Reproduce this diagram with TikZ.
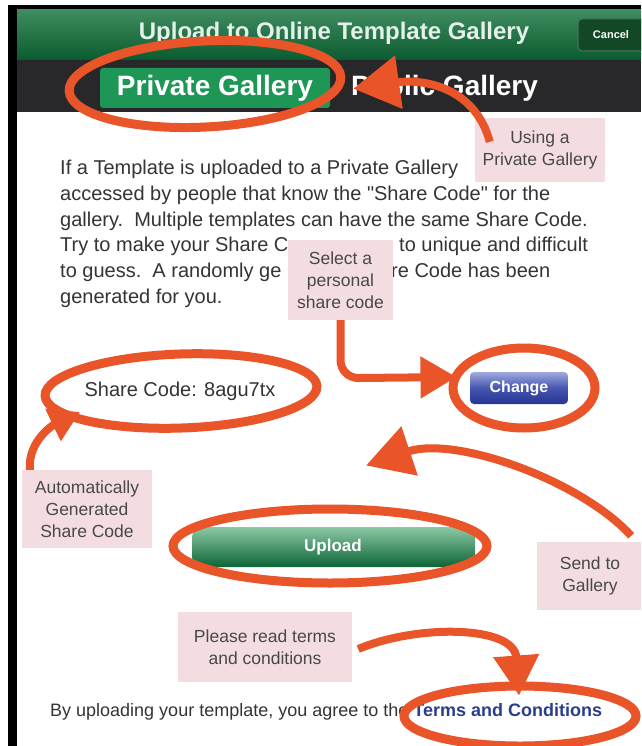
\documentclass[tikz,border=0pt]{standalone}
\usepackage{fontspec}
\setmainfont{Liberation Sans}[Ligatures=TeXOff]
\usetikzlibrary{arrows.meta,shapes.geometric,calc}
\definecolor{orng}{RGB}{233,84,40}
\definecolor{pinkbox}{RGB}{243,221,225}
\definecolor{txtgray}{RGB}{52,52,52}
\definecolor{boxtxt}{RGB}{72,72,72}
\definecolor{darkbar}{RGB}{40,40,42}
\definecolor{hdrtop}{RGB}{62,140,95}
\definecolor{hdrbot}{RGB}{10,92,48}
\definecolor{privgreen}{RGB}{30,150,85}
\definecolor{linkblue}{RGB}{42,62,140}
\definecolor{titlewhite}{RGB}{228,240,232}
\begin{document}
\begin{tikzpicture}[x=1pt,y=-1pt,
  ring/.style={ellipse, draw=orng, line width=9pt, inner sep=0pt},
  note/.style={fill=pinkbox, text=boxtxt, font=\fontsize{17.5}{22}\selectfont, align=center, inner sep=0pt},
  para/.style={anchor=base west, text=txtgray, font=\fontsize{20}{24}\selectfont, inner sep=0pt},
  arr/.style={draw=orng, line width=8pt},
  btntxt/.style={text=white, font=\bfseries\fontsize{#1}{#1}\selectfont, inner sep=0pt}
  ]
\useasboundingbox (0,0) rectangle (641,746);
\clip (0,0) rectangle (641,746);
\fill[white] (0,0) rectangle (641,746);
% frame
\fill[black] (8,5) rectangle (641,746);
\shade[top color=hdrtop, bottom color=hdrbot] (17,10) rectangle (641,60);
\fill[darkbar] (17,60) rectangle (641,112);
\fill[white] (17,112) rectangle (641,746);
% header
\node[btntxt=24, text=titlewhite] (title) at (334,33) {Upload to Online Template Gallery};
\draw[rounded corners=4pt, fill={rgb,255:red,18;green,72;blue,38}, draw={rgb,255:red,70;green,120;blue,85}, line width=1pt] (578,19) rectangle (660,51);
\node[btntxt=11] (cancel) at (611,35) {Cancel};
\fill[privgreen, rounded corners=3pt] (100,68) rectangle (330,108);
\node[btntxt=28] (priv) at (215,88) {Private Gallery};
\node[btntxt=28, anchor=west] (pub) at (351,88) {Public Gallery};
% paragraph
\node[para] (p1) at (60,175) {If a Template is uploaded to a Private Gallery};
\node[para] (p2) at (60,200.6) {accessed by people that know the "Share Code" for the};
\node[para] (p3) at (60,226.2) {gallery.\ \ Multiple templates can have the same Share Code.};
\node[para] (p4a) at (60,251.8) {Try to make your Share C};
\node[para] (p4b) at (399,251.8) {to unique and difficult};
\node[para] (p5a) at (60,277.4) {to guess.\ \ A randomly ge};
\node[para] (p5b) at (391,277.4) {re Code has been};
\node[para] (p6) at (60,303) {generated for you.};
% share code and buttons
\node[text=txtgray, font=\fontsize{20}{24}\selectfont, inner sep=0pt] (code) at (180,391) {Share Code: 8agu7tx};
\shade[top color={rgb,255:red,160;green,170;blue,225}, bottom color={rgb,255:red,38;green,52;blue,148}, middle color={rgb,255:red,70;green,85;blue,175}, rounded corners=4pt] (470,372) rectangle (568,404);
\node[btntxt=16] (chg) at (519,388) {Change};
\shade[top color={rgb,255:red,140;green,200;blue,165}, middle color={rgb,255:red,28;green,140;blue,80}, bottom color={rgb,255:red,12;green,100;blue,55}, rounded corners=10pt] (192,527) rectangle (475,567);
\node[btntxt=17] (upl) at (333,547) {Upload};
% bottom line
\node[anchor=base west, text=txtgray, font=\fontsize{18}{22}\selectfont, inner sep=0pt] (terms) at (50,716) {By uploading your template, you agree to the {\bfseries\color{linkblue}Terms and Conditions}};
% pink notes
\node[note, minimum width=130pt, minimum height=64pt] (using) at (540,150) {Using a\\Private Gallery};
\node[note, minimum width=105pt, minimum height=80pt] (sel) at (340.5,280) {Select a\\personal\\share code};
\node[note, minimum width=130pt, minimum height=78pt] (auto) at (87,509) {Automatically\\Generated\\Share Code};
\node[note, minimum width=106pt, minimum height=68pt] (send) at (590,576) {Send to\\Gallery};
\node[note, minimum width=174pt, minimum height=70pt] (please) at (265,647) {Please read terms\\and conditions};
% rings
\node[ring, minimum width=272pt, minimum height=86pt, rotate=3] (e1) at (205,84) {};
\node[ring, minimum width=272pt, minimum height=74pt, rotate=2] (e2) at (181,391) {};
\node[ring, minimum width=142pt, minimum height=80pt] (e3) at (524,388) {};
\node[ring, minimum width=314pt, minimum height=74pt] (e4) at (330,546) {};
\node[ring, minimum width=232pt, minimum height=60pt] (e5) at (520,716) {};
% arrows
\draw[arr, -{Triangle[length=46pt,width=52pt]}] ($(using.north west)+(15,24)$) .. controls +(-15,-55) and +(70,-10) .. ($(e1.east)+(8,12)$);
\draw[arr, rounded corners=18pt, -{Triangle[length=36pt,width=40pt]}] (sel.south) -- ($(sel.south)+(0,58)$) -- ($(e3.west)+(8,-11)$);
\draw[arr, -{Triangle[length=30pt,width=34pt]}] ($(auto.north west)+(8,0)$) .. controls +(-2,-30) and +(-25,12) .. ($(e2.center)+(-101,21)$);
\draw[arr, -{Triangle[length=46pt,width=50pt]}] ($(send.north east)+(-12,-6)$) .. controls +(-50,-55) and +(90,-30) .. ($(e4.north)+(36,-39)$);
\draw[arr, -{Triangle[length=40pt,width=44pt]}] ($(please.east)+(6,2)$) .. controls +(60,-25) and +(-5,-70) .. ($(e5.north)+(-1,14)$);
\end{tikzpicture}
\end{document}
